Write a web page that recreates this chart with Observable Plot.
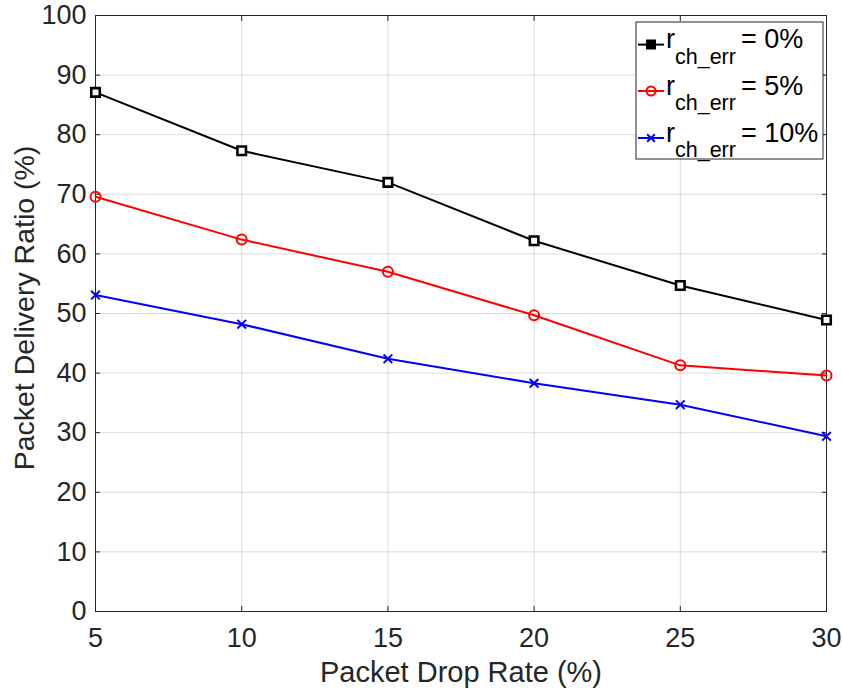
<!DOCTYPE html>
<html><head><meta charset="utf-8">
<script src="https://cdn.jsdelivr.net/npm/d3@7"></script>
<script src="https://cdn.jsdelivr.net/npm/@observablehq/plot@0.6"></script>
<style>body{margin:0;background:#fff;} #chart svg{font-family: Arial, "Liberation Sans", sans-serif; overflow:visible;}</style>
</head><body><div id="chart"></div>
<script>
const dropRate = [5, 10, 15, 20, 25, 30];
const pdr0 = [87.1, 77.3, 72.0, 62.2, 54.7, 48.9];
const pdr5 = [69.6, 62.4, 57.0, 49.7, 41.3, 39.6];
const pdr10 = [53.1, 48.2, 42.4, 38.3, 34.7, 29.4];
const seriesLabels = ["0%", "5%", "10%"];
const seriesColors = ["#000000", "#ff0000", "#0000ff"];
const xTicks = [5, 10, 15, 20, 25, 30];
const yTicks = [0, 10, 20, 30, 40, 50, 60, 70, 80, 90, 100];
const xLabel = "Packet Drop Rate (%)";
const yLabel = "Packet Delivery Ratio (%)";

const allSeries = [pdr0, pdr5, pdr10];
const rows = [];
allSeries.forEach((vals, s) => vals.forEach((v, i) => rows.push({x: dropRate[i], y: v, s})));
const bySeries = s => rows.filter(d => d.s === s);

const textColor = "#262626";
const marks = [
  Plot.gridX(xTicks, {stroke: "#000", strokeOpacity: 0.14}),
  Plot.gridY(yTicks, {stroke: "#000", strokeOpacity: 0.14}),
  Plot.axisX(xTicks, {tickSize: -5, tickPadding: 21, fontSize: 27, label: null, color: textColor}),
  Plot.axisX(xTicks, {anchor: "top", tickSize: -5, tickFormat: () => "", label: null, color: textColor}),
  Plot.axisY(yTicks, {tickSize: -5, tickPadding: 14, fontSize: 27, label: null, color: textColor}),
  Plot.axisY(yTicks, {anchor: "right", tickSize: -5, tickFormat: () => "", label: null, color: textColor}),
  Plot.frame({stroke: textColor, strokeWidth: 1}),
  Plot.text([yLabel], {frameAnchor: "left", textAnchor: "middle", lineAnchor: "middle", dx: -71, dy: -5.5, rotate: -90, fontSize: 28.5, fill: textColor}),
  Plot.text([xLabel], {frameAnchor: "bottom", textAnchor: "middle", lineAnchor: "middle", dy: 61, fontSize: 29, fill: textColor})
];
[0, 1, 2].forEach(s => {
  marks.push(Plot.lineY(bySeries(s), {x: "x", y: "y", stroke: seriesColors[s], strokeWidth: 2}));
});
marks.push(Plot.dot(bySeries(0), {x: "x", y: "y", symbol: "square", r: 4.8, fill: "white", stroke: seriesColors[0], strokeWidth: 2.6}));
marks.push(Plot.dot(bySeries(1), {x: "x", y: "y", symbol: "circle", r: 5, fill: "none", stroke: seriesColors[1], strokeWidth: 2}));
marks.push(Plot.dot(bySeries(2), {x: "x", y: "y", symbol: "times", r: 4, stroke: seriesColors[2], strokeWidth: 2}));

const chart = Plot.plot({
  width: 842, height: 689,
  marginLeft: 95, marginRight: 16, marginTop: 15, marginBottom: 78,
  x: {domain: [5, 30]},
  y: {domain: [0, 100]},
  style: {fontFamily: "Arial, 'Liberation Sans', sans-serif", background: "white"},
  marks
});
document.getElementById("chart").append(chart);

// Legend
const svg = d3.select(chart);
const lg = svg.append("g").attr("transform", "translate(636,22)").attr("text-anchor", "start");
lg.append("rect").attr("width", 187).attr("height", 137).attr("fill", "white").attr("stroke", textColor).attr("stroke-width", 1);
const rowY = [22.6, 69, 116];
seriesLabels.forEach((lab, s) => {
  const g = lg.append("g").attr("transform", `translate(0,${rowY[s]})`);
  g.append("line").attr("x1", 2).attr("x2", 28).attr("y1", 0).attr("y2", 0).attr("stroke", seriesColors[s]).attr("stroke-width", 2);
  const sym = d3.symbol().type(s === 0 ? d3.symbolSquare : s === 1 ? d3.symbolCircle : d3.symbolTimes).size(s === 2 ? 40 : 64)();
  g.append("path").attr("d", sym).attr("transform", "translate(15,0)")
    .attr("fill", s === 0 ? "black" : "none").attr("stroke", seriesColors[s]).attr("stroke-width", 2);
  const t = g.append("text").attr("x", 30).attr("y", 3.5).attr("font-size", 27).attr("fill", "#000");
  t.append("tspan").text("r");
  t.append("tspan").attr("font-size", 21.5).attr("dy", 15.5).text("ch_err");
  t.append("tspan").attr("dy", -15.5).attr("dx", 5).text("= " + lab);
});
</script></body></html>
